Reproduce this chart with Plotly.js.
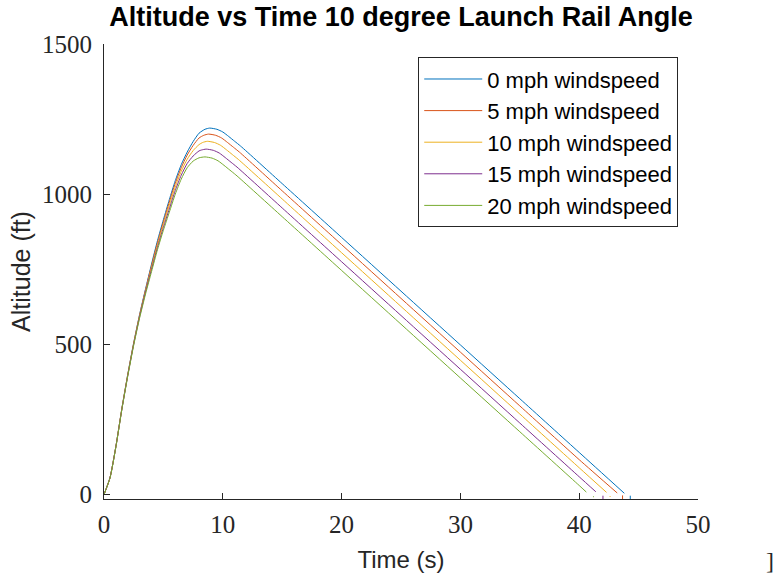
<!DOCTYPE html>
<html>
<head>
<meta charset="utf-8">
<script src="https://cdn.plot.ly/plotly-3.0.1.min.js"></script>
<style>
  html, body { margin: 0; padding: 0; background: #ffffff; }
  #chart { width: 778px; height: 579px; }
</style>
</head>
<body>
<div id="chart"></div>
<script>
// Flight altitude (ft) against time (s) for a 10 degree launch rail, one run per windspeed.
const windLabels = ['0 mph windspeed', '5 mph windspeed', '10 mph windspeed', '15 mph windspeed', '20 mph windspeed'];

const timeWind0 = [0, 0.5, 1, 1.5, 2, 2.5, 3, 3.5, 4, 4.5, 5, 5.5, 6, 6.5, 7, 7.5, 8, 8.5, 8.9, 9.5, 10, 10.5, 11, 11.5, 15, 20, 25, 30, 35, 40, 43.8];
const altWind0  = [0, 55, 160, 285, 400, 505, 600, 685, 767, 845, 915, 982, 1045, 1098, 1140, 1175, 1203, 1216, 1220, 1216, 1207, 1192, 1176, 1160, 1035, 856, 677, 498, 319, 140, 4];

const timeWind5 = [0, 0.5, 1, 1.5, 2, 2.5, 3, 3.5, 4, 4.5, 5, 5.5, 6, 6.5, 7, 7.5, 8, 8.4, 8.8, 9.4, 9.9, 10.4, 10.9, 11.4, 15, 20, 25, 30, 35, 40, 43.2];
const altWind5  = [0, 55, 160, 285, 399, 504, 598, 682, 762, 838, 908, 974, 1036, 1088, 1130, 1162, 1187, 1196, 1200, 1196, 1187, 1172, 1156, 1140, 1011, 832, 653, 474, 295, 116, 5];

const timeWind10 = [0, 0.5, 1, 1.5, 2, 2.5, 3, 3.5, 4, 4.5, 5, 5.5, 6, 6.5, 7, 7.5, 8, 8.3, 8.7, 9.3, 9.8, 10.3, 10.8, 11.3, 15, 20, 25, 30, 35, 40, 42.3];
const altWind10  = [0, 55, 159, 284, 398, 502, 595, 678, 755, 830, 899, 963, 1024, 1076, 1116, 1145, 1165, 1172, 1176, 1172, 1163, 1148, 1132, 1116, 984, 805, 626, 447, 268, 89, 7];

const timeWind15 = [0, 0.5, 1, 1.5, 2, 2.5, 3, 3.5, 4, 4.5, 5, 5.5, 6, 6.5, 7, 7.5, 8, 8.2, 8.6, 9.2, 9.7, 10.2, 10.7, 11.2, 15, 20, 25, 30, 35, 40, 41.4];
const altWind15  = [0, 55, 159, 283, 396, 500, 592, 674, 749, 822, 889, 951, 1012, 1063, 1102, 1127, 1144, 1147, 1150, 1146, 1137, 1122, 1106, 1090, 954, 775, 596, 417, 238, 59, 9];

const timeWind20 = [0, 0.5, 1, 1.5, 2, 2.5, 3, 3.5, 4, 4.5, 5, 5.5, 6, 6.5, 7, 7.5, 8, 8.5, 9.1, 9.6, 10.1, 10.6, 11.1, 15, 20, 25, 30, 35, 40, 40.6];
const altWind20  = [0, 54, 158, 282, 394, 497, 588, 668, 742, 815, 880, 940, 1000, 1050, 1088, 1110, 1121, 1124, 1120, 1111, 1096, 1080, 1064, 925, 746, 567, 388, 209, 30, 8];

// Last logged sample of each run, just below ground level
const touchdownTime  = [44.3, 43.65, 42.6, 42.0, 41.2];
const touchdownUpper = [-4, -3, -5, -4, -6];
const touchdownLower = [-15, -15, -8, -15, -9];

const xTickVals = [0, 10, 20, 30, 40, 50];
const yTickVals = [0, 500, 1000, 1500];

const seriesTimes = [timeWind0, timeWind5, timeWind10, timeWind15, timeWind20];
const seriesAlts  = [altWind0, altWind5, altWind10, altWind15, altWind20];
const lineColors  = ['#0072BD', '#D95319', '#EDB120', '#7E2F8E', '#77AC30'];

const traces = windLabels.map((name, i) => ({
  type: 'scatter',
  mode: 'lines',
  name: name,
  legendgroup: 'g' + i,
  x: seriesTimes[i].concat([null, touchdownTime[i], touchdownTime[i]]),
  y: seriesAlts[i].concat([null, touchdownUpper[i], touchdownLower[i]]),
  line: { color: lineColors[i], width: 1, shape: 'spline', smoothing: 0.6 },
  connectgaps: false,
  hoverinfo: 'skip'
}));

const axisColor = '#262626';
const tickFont = { family: '"Liberation Serif", "DejaVu Serif", serif', size: 25, color: axisColor };
const labelFont = { family: '"Liberation Sans", Arial, sans-serif', size: 24, color: axisColor };

const layout = {
  width: 778,
  height: 579,
  margin: { l: 104, r: 80, t: 44, b: 80, pad: 0 },
  paper_bgcolor: '#ffffff',
  plot_bgcolor: '#ffffff',
  showlegend: true,
  hovermode: false,
  title: {
    text: '<b>Altitude vs Time 10 degree Launch Rail Angle</b>',
    font: { family: '"Liberation Sans", Arial, sans-serif', size: 27, color: '#000000' },
    x: 0.5, xref: 'paper', xanchor: 'center',
    y: 0.992, yref: 'container', yanchor: 'top', pad: { t: 2 }
  },
  xaxis: {
    range: [0, 50],
    tickvals: xTickVals,
    ticktext: xTickVals.map(String),
    ticks: 'inside',
    ticklen: 6,
    tickwidth: 1,
    tickcolor: axisColor,
    showline: true,
    linecolor: axisColor,
    linewidth: 1,
    mirror: false,
    showgrid: false,
    zeroline: false,
    tickfont: tickFont,
    ticklabelstandoff: 3,
    title: { text: 'Time (s)', font: labelFont, standoff: 14 }
  },
  yaxis: {
    range: [-15, 1500],
    tickvals: yTickVals,
    ticktext: yTickVals.map(String),
    ticks: 'inside',
    ticklen: 6,
    tickwidth: 1,
    tickcolor: axisColor,
    showline: true,
    linecolor: axisColor,
    linewidth: 1,
    mirror: false,
    showgrid: false,
    zeroline: false,
    tickfont: tickFont,
    ticklabelstandoff: 6,
    title: { text: 'Altitude (ft)', font: { family: labelFont.family, size: 25, color: axisColor }, standoff: 4 }
  },
  legend: {
    x: 0.529, y: 0.971,
    xanchor: 'left', yanchor: 'top',
    bgcolor: '#ffffff',
    bordercolor: '#262626',
    borderwidth: 1,
    font: { family: '"Liberation Sans", Arial, sans-serif', size: 22, color: '#000000' },
    tracegroupgap: 0,
    itemwidth: 58,
    traceorder: 'normal'
  },
  annotations: [{
    text: ']',
    xref: 'paper', yref: 'paper',
    x: 1.122, y: -0.137,
    xanchor: 'center', yanchor: 'middle',
    showarrow: false,
    font: { family: '"Liberation Serif", serif', size: 24, color: axisColor }
  }]
};

Plotly.newPlot('chart', traces, layout, { displayModeBar: false, staticPlot: true });
</script>
</body>
</html>
